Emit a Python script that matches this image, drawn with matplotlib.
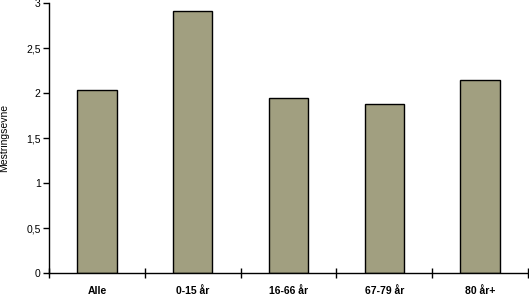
import matplotlib
matplotlib.use("Agg")
import matplotlib.pyplot as plt
import numpy as np

categories = ["Alle", "0-15 år", "16-66 år", "67-79 år", "80 år+"]
values = [2.03, 2.91, 1.945, 1.88, 2.145]
yticks = [0, 0.5, 1, 1.5, 2, 2.5, 3]
yticklabels = ["0", "0,5", "1", "1,5", "2", "2,5", "3"]

plt.rcParams['font.family'] = ['Liberation Sans', 'DejaVu Sans']

fig = plt.figure(figsize=(5.29, 2.98), dpi=100)
ax = fig.add_axes([49/529, (298-273.3)/298, (528-49)/529, (273.3-3)/298])

x = np.arange(len(categories))
ax.bar(x, values, width=0.41, color='#a19f80', edgecolor='black', linewidth=1.0, zorder=2)

ax.set_xlim(-0.5, len(categories) - 0.5)
ax.set_ylim(0, 3)
ax.set_yticks(yticks)
ax.set_yticklabels(yticklabels, fontsize=7.5)

ax.set_xticks(x)
ax.set_xticklabels(categories, fontsize=7.5, fontweight='bold')
ax.tick_params(axis='x', which='major', length=0, pad=9)
ax.set_xticks(np.arange(len(categories) + 1) - 0.5, minor=True)
ax.tick_params(axis='x', which='minor', direction='inout', length=7, width=1, color='black')
ax.tick_params(axis='y', direction='out', length=4, width=1, pad=2)

for s in ['top', 'right']:
    ax.spines[s].set_visible(False)
for s in ['left', 'bottom']:
    ax.spines[s].set_linewidth(1.0)

ax.set_ylabel("Mestringsevne", fontsize=7.5)
ax.yaxis.set_label_coords(-0.083, 0.5)

fig.savefig("out.png", dpi=100)
